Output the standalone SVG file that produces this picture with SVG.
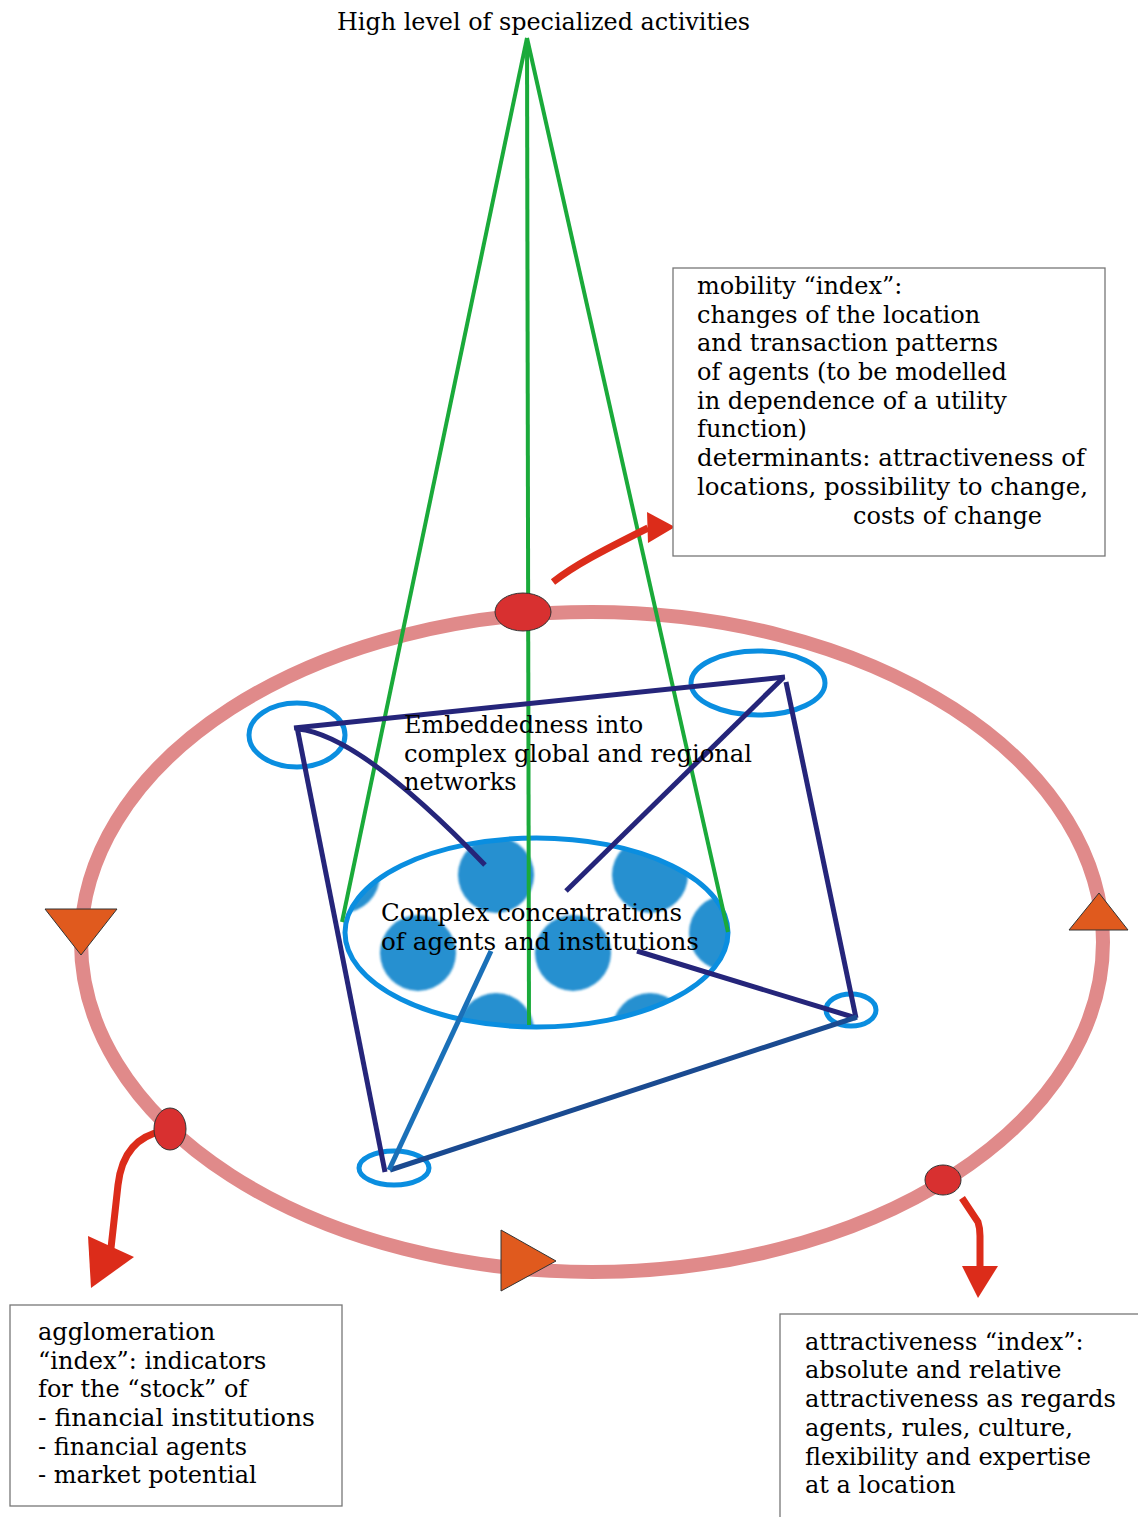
<svg xmlns="http://www.w3.org/2000/svg" width="1138" height="1517" viewBox="0 0 1138 1517">
<style>
.t{font-family:"DejaVu Serif","Liberation Serif",serif;font-size:24px;fill:#000}
.box{fill:#fff;stroke:#777;stroke-width:1.3}
.green{stroke:#1aaa3a;stroke-width:4;fill:none}
.navy{stroke:#25257a;stroke-width:5;fill:none;stroke-linecap:butt}
.ring{fill:none;stroke:#0a8ee0;stroke-width:5}
.dot{fill:#d83030;stroke:#333;stroke-width:1}
.tri{fill:#e05a1e;stroke:#333;stroke-width:1}
.arr{stroke:#dc2c1a;stroke-width:7;fill:none}
.head{fill:#dc2c1a}
</style>
<defs>
<clipPath id="inner"><ellipse cx="536.5" cy="932.5" rx="191" ry="94"/></clipPath>
<filter id="blur" x="-10%" y="-10%" width="120%" height="120%"><feGaussianBlur stdDeviation="1.2"/></filter>
</defs>
<rect width="1138" height="1517" fill="#fff"/>

<g id="outer-ring">
<ellipse cx="592" cy="942" rx="511" ry="330" fill="none" stroke="#e08a8a" stroke-width="14"/>
</g>

<g id="concentrations">
<g clip-path="url(#inner)" filter="url(#blur)" fill="#2690d0">
<circle cx="342" cy="875" r="38"/>
<circle cx="496" cy="875" r="38"/>
<circle cx="650" cy="875" r="38"/>
<circle cx="418" cy="953" r="38"/>
<circle cx="573" cy="953" r="38"/>
<circle cx="727" cy="933" r="38"/>
<circle cx="496" cy="1031" r="38"/>
<circle cx="650" cy="1031" r="38"/>
</g>
<ellipse class="ring" cx="536.5" cy="932.5" rx="191.5" ry="94.5"/>
</g>

<g id="small-rings">
<ellipse class="ring" cx="297" cy="735" rx="48" ry="32"/>
<ellipse class="ring" cx="758" cy="683" rx="67" ry="32"/>
<ellipse class="ring" cx="851" cy="1010" rx="25" ry="16"/>
<ellipse class="ring" cx="394" cy="1168" rx="35" ry="17"/>
</g>

<g id="connectors">
<line class="green" x1="527" y1="38" x2="342" y2="922"/>
<line class="green" x1="527" y1="38" x2="728" y2="932"/>
<line class="green" x1="527" y1="38" x2="529" y2="1025"/>
<line class="navy" x1="294" y1="728" x2="785" y2="677"/>
<line class="navy" x1="297" y1="727" x2="385" y2="1172"/>
<line class="navy" x1="786" y1="682" x2="856" y2="1018"/>
<path class="navy" d="M298,729 Q360,735 485,865"/>
<line class="navy" x1="783" y1="678" x2="566" y2="891"/>
<line class="navy" x1="637" y1="951" x2="856" y2="1018"/>
<line x1="390" y1="1170" x2="857" y2="1017" stroke="#1a4a90" stroke-width="5"/>
<line x1="389" y1="1170" x2="491" y2="951" stroke="#1a70b8" stroke-width="5"/>
<path class="arr" d="M553,582 C575,565 600,552 648,528"/>
<polygon class="head" points="647,512 675,527 648,543"/>
<path class="arr" d="M164,1131 C140,1135 122,1150 118,1185 L111,1248"/>
<polygon class="head" points="88,1236 134,1257 91,1288"/>
<path class="arr" d="M962,1198 L978,1222 Q980,1228 980,1236 L980,1268"/>
<polygon class="head" points="962,1266 998,1266 978,1298"/>
</g>

<g id="markers">
<ellipse class="dot" cx="523" cy="612" rx="28" ry="19"/>
<ellipse class="dot" cx="170" cy="1129" rx="16" ry="21"/>
<ellipse class="dot" cx="943" cy="1180" rx="18" ry="15"/>
<polygon class="tri" points="45,909 117,909 81,955"/>
<polygon class="tri" points="1069,930 1128,930 1099,893"/>
<polygon class="tri" points="501,1230 501,1291 556,1261"/>
</g>

<g id="title">
<text class="t" x="337" y="30" textLength="413" lengthAdjust="spacingAndGlyphs">High level of specialized activities</text>
</g>

<g id="embeddedness">
<text class="t" x="404" y="733">Embeddedness into</text>
<text class="t" x="404" y="762" textLength="348" lengthAdjust="spacingAndGlyphs">complex global and regional</text>
<text class="t" x="404" y="790">networks</text>
</g>

<g id="concentration-label">
<text class="t" x="381" y="921" textLength="301" lengthAdjust="spacingAndGlyphs">Complex concentrations</text>
<text class="t" x="381" y="950" textLength="318" lengthAdjust="spacingAndGlyphs">of agents and institutions</text>
</g>

<g id="mobility-box">
<rect class="box" x="673" y="268" width="432" height="288"/>
<text class="t" x="697" y="294">mobility “index”:</text>
<text class="t" x="697" y="323">changes of the location</text>
<text class="t" x="697" y="351">and transaction patterns</text>
<text class="t" x="697" y="380">of agents (to be modelled</text>
<text class="t" x="697" y="409">in dependence of a utility</text>
<text class="t" x="697" y="437">function)</text>
<text class="t" x="697" y="466" textLength="388" lengthAdjust="spacingAndGlyphs">determinants: attractiveness of</text>
<text class="t" x="697" y="495" textLength="391" lengthAdjust="spacingAndGlyphs">locations, possibility to change,</text>
<text class="t" x="853" y="524">costs of change</text>
</g>

<g id="agglomeration-box">
<rect class="box" x="10" y="1305" width="332" height="201"/>
<text class="t" x="38" y="1340">agglomeration</text>
<text class="t" x="38" y="1369">“index”: indicators</text>
<text class="t" x="38" y="1397">for the “stock” of</text>
<text class="t" x="38" y="1426" textLength="277" lengthAdjust="spacingAndGlyphs">- financial institutions</text>
<text class="t" x="38" y="1455">- financial agents</text>
<text class="t" x="38" y="1483">- market potential</text>
</g>

<g id="attractiveness-box">
<rect class="box" x="780" y="1314" width="370" height="220"/>
<text class="t" x="805" y="1350">attractiveness “index”:</text>
<text class="t" x="805" y="1378">absolute and relative</text>
<text class="t" x="805" y="1407" textLength="311" lengthAdjust="spacingAndGlyphs">attractiveness as regards</text>
<text class="t" x="805" y="1436">agents, rules, culture,</text>
<text class="t" x="805" y="1465">flexibility and expertise</text>
<text class="t" x="805" y="1493">at a location</text>
</g>
</svg>
